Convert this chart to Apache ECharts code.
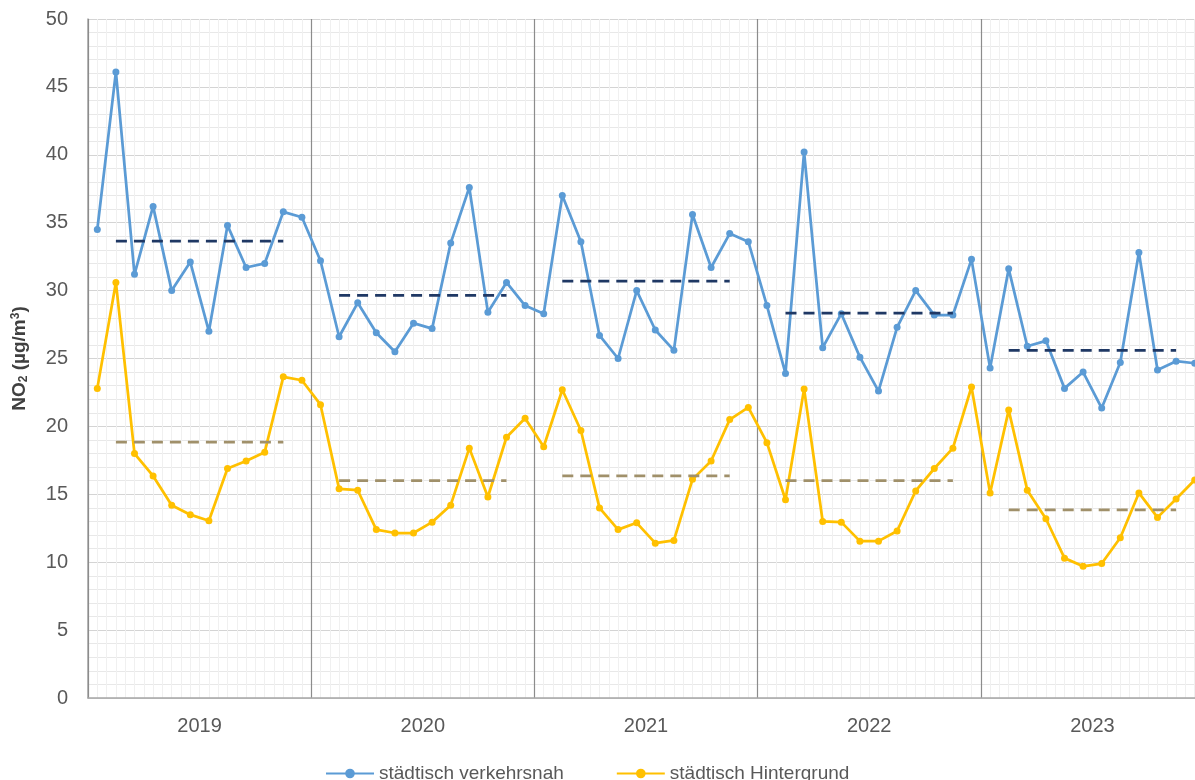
<!DOCTYPE html>
<html>
<head>
<meta charset="utf-8">
<script src="https://cdn.jsdelivr.net/npm/echarts@6/dist/echarts.min.js"></script>
<style>
html,body{margin:0;padding:0;background:#fff;overflow:hidden;width:1195px;height:780px;}
#c{width:1215px;height:780px;}
</style>
</head>
<body>
<div id="c"></div>
<script>
const years = ['2019','2020','2021','2022','2023'];
const months = [];
years.forEach(y => { for (let m = 1; m <= 12; m++) months.push(y + '-' + (m < 10 ? '0' + m : m)); });

const verkehrsnah = [
  34.5, 46.1, 31.2, 36.2, 30.0, 32.1, 27.0, 34.8, 31.7, 32.0, 35.8, 35.4,
  32.2, 26.6, 29.1, 26.9, 25.5, 27.6, 27.2, 33.5, 37.6, 28.4, 30.6, 28.9,
  28.3, 37.0, 33.6, 26.7, 25.0, 30.0, 27.1, 25.6, 35.6, 31.7, 34.2, 33.6,
  28.9, 23.9, 40.2, 25.8, 28.3, 25.1, 22.6, 27.3, 30.0, 28.2, 28.2, 32.3,
  24.3, 31.6, 25.9, 26.3, 22.8, 24.0, 21.35, 24.7, 32.8, 24.15, 24.8, 24.65
];
const hintergrund = [
  22.8, 30.6, 18.0, 16.35, 14.2, 13.5, 13.05, 16.9, 17.45, 18.1, 23.65, 23.4,
  21.6, 15.4, 15.3, 12.4, 12.15, 12.15, 12.95, 14.2, 18.4, 14.8, 19.2, 20.6,
  18.5, 22.7, 19.7, 14.0, 12.4, 12.9, 11.4, 11.6, 16.1, 17.45, 20.5, 21.4,
  18.8, 14.6, 22.75, 13.0, 12.95, 11.55, 11.55, 12.3, 15.25, 16.9, 18.4, 22.9,
  15.1, 21.2, 15.3, 13.2, 10.3, 9.7, 9.9, 11.8, 15.1, 13.3, 14.65, 16.05
];
const meanVerkehrsnah = [33.65, 29.65, 30.7, 28.35, 25.6];
const meanHintergrund = [18.85, 16.0, 16.35, 16.0, 13.85];
const yTicks = [0, 5, 10, 15, 20, 25, 30, 35, 40, 45, 50];

function meanLine(means) {
  return months.map((_, i) => {
    const y = Math.floor(i / 12), m = i % 12;
    return (m >= 1 && m <= 10) ? means[y] : null;
  });
}

const font = 'Liberation Sans';
const chart = echarts.init(document.getElementById('c'));
chart.setOption({
  animation: false,
  backgroundColor: '#ffffff',
  textStyle: { fontFamily: font },
  grid: { left: 88, top: 19, width: 1116, bottom: 82, containLabel: false },
  legend: {
    data: ['städtisch verkehrsnah', 'städtisch Hintergrund'],
    left: 320, top: 759,
    itemWidth: 48, itemHeight: 12, itemGap: 52,
    textStyle: { fontFamily: font, fontSize: 19, color: '#595959' }
  },
  xAxis: [
    {
      type: 'category', data: months, boundaryGap: true,
      axisLine: { show: false }, axisTick: { show: false }, axisLabel: { show: false },
      splitLine: { show: true, interval: 0, lineStyle: { color: '#e2e2e2', width: 1 } }
    },
    {
      type: 'category', data: years, boundaryGap: true, position: 'bottom',
      axisLine: { show: true, lineStyle: { color: '#a6a6a6', width: 1.5 } },
      axisTick: { show: false },
      axisLabel: { color: '#595959', fontSize: 20, margin: 18, fontFamily: font },
      splitLine: { show: true, interval: 0, lineStyle: { color: '#8c8c8c', width: 1.2 } },
      z: 3
    },
    {
      type: 'value', min: 0, max: 60, interval: 0.5, show: true,
      axisLine: { show: false }, axisTick: { show: false }, axisLabel: { show: false },
      splitLine: { show: true, lineStyle: { color: '#f0f0f0', width: 1 } }
    }
  ],
  yAxis: {
    type: 'value', min: 0, max: 50, interval: 5,
    name: '{b|NO}{s|2}{b| (µg/m}{p|3}{b|)}', nameLocation: 'middle', nameGap: 58, nameRotate: 90,
    nameTextStyle: {
      fontFamily: font, fontSize: 19, fontWeight: 'bold', color: '#404040',
      rich: {
        b: { fontFamily: font, fontSize: 19, fontWeight: 'bold', color: '#404040' },
        s: { fontFamily: font, fontSize: 12, fontWeight: 'bold', color: '#404040', padding: [8, 0, 0, 0] },
        p: { fontFamily: font, fontSize: 12, fontWeight: 'bold', color: '#404040', padding: [0, 0, 8, 0] }
      }
    },
    axisLine: { show: true, lineStyle: { color: '#a6a6a6', width: 1.5 } },
    axisTick: { show: false },
    axisLabel: { color: '#595959', fontSize: 20, margin: 20, fontFamily: font,
      formatter: v => yTicks.includes(v) ? String(v) : '' },
    splitLine: { show: true, lineStyle: { color: '#d4d4d4', width: 1 } },
    minorTick: { show: false, splitNumber: 5 },
    minorSplitLine: { show: true, lineStyle: { color: '#e8e8e8', width: 1 } }
  },
  series: [
    {
      name: 'städtisch verkehrsnah', type: 'line', xAxisIndex: 0, data: verkehrsnah,
      symbol: 'circle', symbolSize: 7, z: 4,
      lineStyle: { color: '#5B9BD5', width: 2.75 },
      itemStyle: { color: '#5B9BD5' }
    },
    {
      name: 'städtisch Hintergrund', type: 'line', xAxisIndex: 0, data: hintergrund,
      symbol: 'circle', symbolSize: 7, z: 4,
      lineStyle: { color: '#FFC000', width: 2.75 },
      itemStyle: { color: '#FFC000' }
    },
    {
      name: 'Mittel verkehrsnah', type: 'line', xAxisIndex: 0, data: meanLine(meanVerkehrsnah),
      symbol: 'none', connectNulls: false, z: 5,
      lineStyle: { color: '#1F3864', width: 2.75, type: [11, 7] }
    },
    {
      name: 'Mittel Hintergrund', type: 'line', xAxisIndex: 0, data: meanLine(meanHintergrund),
      symbol: 'none', connectNulls: false, z: 5,
      lineStyle: { color: '#A0906A', width: 2.75, type: [11, 7] }
    }
  ]
});
</script>
</body>
</html>
